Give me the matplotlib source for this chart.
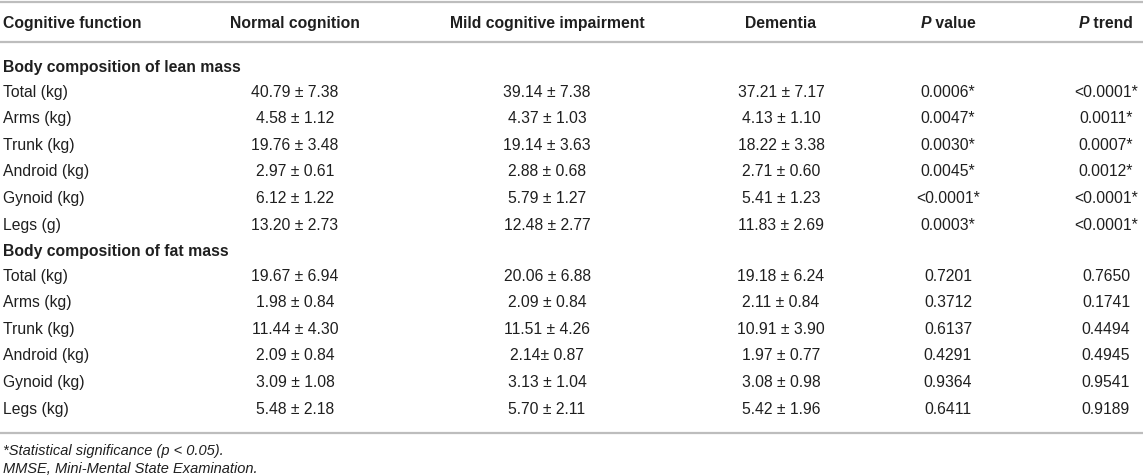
import matplotlib.pyplot as plt

plt.rcParams['font.family'] = ['Liberation Sans', 'DejaVu Sans']

headers = ["Cognitive function", "Normal cognition", "Mild cognitive impairment",
           "Dementia", "P| value", "P| trend"]

lean_labels = ["Total (kg)", "Arms (kg)", "Trunk (kg)", "Android (kg)", "Gynoid (kg)", "Legs (g)"]
lean_normal = ["40.79 ± 7.38", "4.58 ± 1.12", "19.76 ± 3.48", "2.97 ± 0.61", "6.12 ± 1.22", "13.20 ± 2.73"]
lean_mci = ["39.14 ± 7.38", "4.37 ± 1.03", "19.14 ± 3.63", "2.88 ± 0.68", "5.79 ± 1.27", "12.48 ± 2.77"]
lean_dem = ["37.21 ± 7.17", "4.13 ± 1.10", "18.22 ± 3.38", "2.71 ± 0.60", "5.41 ± 1.23", "11.83 ± 2.69"]
lean_p = ["0.0006*", "0.0047*", "0.0030*", "0.0045*", "<0.0001*", "0.0003*"]
lean_trend = ["<0.0001*", "0.0011*", "0.0007*", "0.0012*", "<0.0001*", "<0.0001*"]

fat_labels = ["Total (kg)", "Arms (kg)", "Trunk (kg)", "Android (kg)", "Gynoid (kg)", "Legs (kg)"]
fat_normal = ["19.67 ± 6.94", "1.98 ± 0.84", "11.44 ± 4.30", "2.09 ± 0.84", "3.09 ± 1.08", "5.48 ± 2.18"]
fat_mci = ["20.06 ± 6.88", "2.09 ± 0.84", "11.51 ± 4.26", "2.14± 0.87", "3.13 ± 1.04", "5.70 ± 2.11"]
fat_dem = ["19.18 ± 6.24", "2.11 ± 0.84", "10.91 ± 3.90", "1.97 ± 0.77", "3.08 ± 0.98", "5.42 ± 1.96"]
fat_p = ["0.7201", "0.3712", "0.6137", "0.4291", "0.9364", "0.6411"]
fat_trend = ["0.7650", "0.1741", "0.4494", "0.4945", "0.9541", "0.9189"]

footnotes = ["*Statistical significance (p < 0.05).", "MMSE, Mini-Mental State Examination."]

col_x = [3, 295, 547, 781, 948, 1106]
txt = "#1f1f1f"
rule = "#bdbdbd"
fs = 11.3
base = 5.6  # baseline offset below the row centre, px

fig = plt.figure(figsize=(11.43, 4.77), dpi=100)
ax = fig.add_axes([0, 0, 1, 1])
ax.set_xlim(0, 1143)
ax.set_ylim(477, 0)
ax.axis("off")
renderer = fig.canvas.get_renderer()

for y in [3, 43, 434]:
    ax.plot([0, 1143], [y, y], color=rule, lw=1.6, solid_capstyle="butt")


def width_px(t):
    return t.get_window_extent(renderer=renderer).width


for i, h in enumerate(headers):
    y = 22 + base
    if "|" in h:
        first, rest = h.split("|")
        t1 = ax.text(0, y, first, ha="left", va="baseline", fontsize=fs,
                     fontweight="bold", style="italic", color=txt)
        t2 = ax.text(0, y, rest, ha="left", va="baseline", fontsize=fs,
                     fontweight="bold", color=txt)
        w1, w2 = width_px(t1), width_px(t2)
        x0 = col_x[i] - (w1 + w2) / 2
        t1.set_x(x0)
        t2.set_x(x0 + w1)
    else:
        ax.text(col_x[i], y, h, ha="left" if i == 0 else "center", va="baseline",
                fontsize=fs, fontweight="bold", color=txt)


def block(title, y0, labels, cols):
    ax.text(col_x[0], y0 + base, title, ha="left", va="baseline", fontsize=fs,
            fontweight="bold", color=txt)
    ys = [y0 + 25 + 26.6 * k + base for k in range(len(labels))]
    for k, y in enumerate(ys):
        ax.text(col_x[0], y, labels[k], ha="left", va="baseline", fontsize=fs, color=txt)
        for j, c in enumerate(cols):
            ax.text(col_x[j + 1], y, c[k], ha="center", va="baseline", fontsize=fs, color=txt)


block("Body composition of lean mass", 66, lean_labels,
      [lean_normal, lean_mci, lean_dem, lean_p, lean_trend])
block("Body composition of fat mass", 250, fat_labels,
      [fat_normal, fat_mci, fat_dem, fat_p, fat_trend])

ax.text(col_x[0], 450 + 5, footnotes[0], ha="left", va="baseline", fontsize=10.5,
        style="italic", color=txt)
ax.text(col_x[0], 468 + 5, footnotes[1], ha="left", va="baseline", fontsize=10.5,
        style="italic", color=txt)

fig.savefig("out.png", dpi=100)
